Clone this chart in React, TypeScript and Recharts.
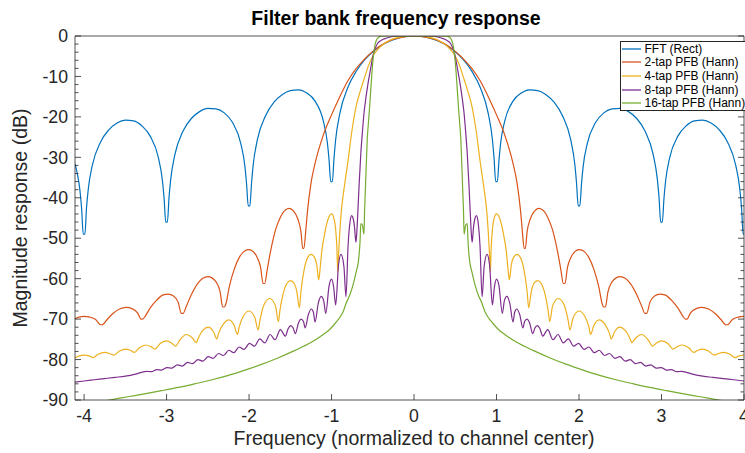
import { LineChart, Line, XAxis, YAxis } from 'recharts'

const seriesNames = ['FFT (Rect)', '2-tap PFB (Hann)', '4-tap PFB (Hann)', '8-tap PFB (Hann)', '16-tap PFB (Hann)']
const seriesColors = ['#0072BD', '#D95319', '#EDB120', '#7E2F8E', '#77AC30']
const freqTicks = [-4, -3, -2, -1, 0, 1, 2, 3, 4]
const dbTicks = [0, -2, -4, -6, -8, -10, -12, -14, -16, -18, -20, -22, -24, -26, -28, -30, -32, -34, -36, -38, -40, -42, -44, -46, -48, -50, -52, -54, -56, -58, -60, -62, -64, -66, -68, -70, -72, -74, -76, -78, -80, -82, -84, -86, -88, -90]

// [frequency, dB]
const fftPoints: [number, number][] = [
  [-4.11, -31.6], [-4.08, -34.2], [-4.05, -38.2], [-4.03, -42.6], [-4.01, -49], [-3.99, -49], [-3.97, -42.4], [-3.95, -38.0],
  [-3.9, -32.0], [-3.8, -26.2], [-3.7, -23.2], [-3.6, -21.5], [-3.5, -20.8], [-3.4, -21.0], [-3.3, -22.2], [-3.2, -24.7],
  [-3.1, -30.0], [-3.05, -35.8], [-3.03, -40.1], [-3.01, -46], [-2.99, -46], [-2.97, -39.9], [-2.95, -35.5], [-2.9, -29.4],
  [-2.8, -23.5], [-2.7, -20.4], [-2.6, -18.7], [-2.5, -17.9], [-2.4, -18.0], [-2.3, -19.0], [-2.2, -21.4], [-2.1, -26.6],
  [-2.05, -32.3], [-2.03, -36.6], [-2.01, -42], [-1.99, -42], [-1.97, -36.4], [-1.95, -31.9], [-1.9, -25.7], [-1.8, -19.7],
  [-1.7, -16.4], [-1.6, -14.5], [-1.5, -13.5], [-1.4, -13.3], [-1.3, -14.1], [-1.2, -16.1], [-1.1, -21.0], [-1.05, -26.5],
  [-1.03, -30.7], [-1.01, -36], [-0.99, -36], [-0.97, -30.2], [-0.95, -25.6], [-0.9, -19.2], [-0.8, -12.6], [-0.7, -8.7],
  [-0.6, -5.9], [-0.5, -3.9], [-0.4, -2.4], [-0.3, -1.3], [-0.2, -0.6], [-0.1, -0.1], [0, 0],
  [0.1, -0.1], [0.2, -0.6], [0.3, -1.3], [0.4, -2.4], [0.5, -3.9], [0.6, -5.9], [0.7, -8.7], [0.8, -12.6], [0.9, -19.2],
  [0.95, -25.6], [0.97, -30.2], [0.99, -36], [1.01, -36], [1.03, -30.7], [1.05, -26.5], [1.1, -21.0], [1.2, -16.1],
  [1.3, -14.1], [1.4, -13.3], [1.5, -13.5], [1.6, -14.5], [1.7, -16.4], [1.8, -19.7], [1.9, -25.7], [1.95, -31.9],
  [1.97, -36.4], [1.99, -42], [2.01, -42], [2.03, -36.6], [2.05, -32.3], [2.1, -26.6], [2.2, -21.4], [2.3, -19.0],
  [2.4, -18.0], [2.5, -17.9], [2.6, -18.7], [2.7, -20.4], [2.8, -23.5], [2.9, -29.4], [2.95, -35.5], [2.97, -39.9],
  [2.99, -46], [3.01, -46], [3.03, -40.1], [3.05, -35.8], [3.1, -30.0], [3.2, -24.7], [3.3, -22.2], [3.4, -21.0],
  [3.5, -20.8], [3.6, -21.5], [3.7, -23.2], [3.8, -26.2], [3.9, -32.0], [3.95, -38.0], [3.97, -42.4], [3.99, -49], [4.0, -49],
]

const pfb2Points: [number, number][] = [
  [-4.11, -69.9], [-4.06, -69.5], [-4.0, -69.3], [-3.93, -69.5], [-3.86, -70.1], [-3.8, -71.4], [-3.78, -71.4], [-3.72, -70.1],
  [-3.65, -68.6], [-3.57, -67.5], [-3.49, -67.1], [-3.42, -67.4], [-3.35, -68.5], [-3.31, -70], [-3.29, -70], [-3.26, -69.3],
  [-3.2, -67.3], [-3.12, -65.3], [-3.04, -64.0], [-2.98, -63.8], [-2.92, -64.2], [-2.86, -65.8], [-2.82, -68.6], [-2.8, -68.6],
  [-2.76, -66.8], [-2.7, -64], [-2.63, -61.4], [-2.56, -59.9], [-2.5, -59.5], [-2.45, -59.8], [-2.4, -60.8], [-2.35, -63.3],
  [-2.32, -67], [-2.3, -67], [-2.28, -66.2], [-2.24, -62], [-2.18, -57.7], [-2.12, -54.8], [-2.05, -53.1], [-2.0, -52.8],
  [-1.95, -53.3], [-1.9, -54.8], [-1.86, -57.2], [-1.83, -61.2], [-1.81, -61.2], [-1.78, -57.8], [-1.74, -53.3], [-1.68, -48.0],
  [-1.62, -44.8], [-1.56, -43.0], [-1.51, -42.6], [-1.46, -43.3], [-1.41, -45.2], [-1.37, -48.5], [-1.35, -52.5], [-1.335, -52.5],
  [-1.31, -47.5], [-1.29, -43], [-1.25, -36.5], [-1.2, -31.5], [-1.1, -24.5], [-1.0, -19.5], [-0.9, -15.0], [-0.8, -11.0],
  [-0.7, -8.0], [-0.6, -5.7], [-0.5, -3.8], [-0.4, -2.3], [-0.3, -1.2], [-0.2, -0.55], [-0.1, -0.15], [0, 0],
  [0.1, -0.15], [0.2, -0.55], [0.3, -1.2], [0.4, -2.3], [0.5, -3.8], [0.6, -5.7], [0.7, -8.0], [0.8, -11.0], [0.9, -15.0],
  [1.0, -19.5], [1.1, -24.5], [1.2, -31.5], [1.25, -36.5], [1.29, -43], [1.31, -47.5], [1.335, -52.5], [1.35, -52.5],
  [1.37, -48.5], [1.41, -45.2], [1.46, -43.3], [1.51, -42.6], [1.56, -43.0], [1.62, -44.8], [1.68, -48.0], [1.74, -53.3],
  [1.78, -57.8], [1.81, -61.2], [1.83, -61.2], [1.86, -57.2], [1.9, -54.8], [1.95, -53.3], [2.0, -52.8], [2.05, -53.1],
  [2.12, -54.8], [2.18, -57.7], [2.24, -62], [2.28, -66.2], [2.3, -67], [2.32, -67], [2.35, -63.3], [2.4, -60.8],
  [2.45, -59.8], [2.5, -59.5], [2.56, -59.9], [2.63, -61.4], [2.7, -64], [2.76, -66.8], [2.8, -68.6], [2.82, -68.6],
  [2.86, -65.8], [2.92, -64.2], [2.98, -63.8], [3.04, -64.0], [3.12, -65.3], [3.2, -67.3], [3.26, -69.3], [3.29, -70],
  [3.31, -70], [3.35, -68.5], [3.42, -67.4], [3.49, -67.1], [3.57, -67.5], [3.65, -68.6], [3.72, -70.1], [3.78, -71.4],
  [3.8, -71.4], [3.86, -70.1], [3.93, -69.5], [4.0, -69.3],
]

const pfb4Points: [number, number][] = [
  [-4.11, -79.6], [-4.06, -79.1], [-4.0, -78.9], [-3.94, -79.1], [-3.89, -79.5], [-3.83, -78.7], [-3.75, -78.2], [-3.69, -78.5],
  [-3.64, -78.9], [-3.57, -77.9], [-3.5, -77.4], [-3.44, -77.7], [-3.39, -78.2], [-3.33, -77.1], [-3.25, -76.4], [-3.19, -76.8],
  [-3.14, -77.4], [-3.08, -76.1], [-3.0, -75.4], [-2.94, -75.9], [-2.89, -76.7], [-2.84, -75.2], [-2.76, -73.8], [-2.69, -74.6],
  [-2.64, -75.8], [-2.62, -74.9], [-2.56, -72.8], [-2.49, -72.0], [-2.43, -73.2], [-2.39, -74.9], [-2.37, -73.6], [-2.31, -71.2],
  [-2.245, -70.2], [-2.18, -71.6], [-2.14, -73.8], [-2.12, -72.0], [-2.07, -69.3], [-2.0, -68.0], [-1.93, -69.6], [-1.89, -72.7],
  [-1.87, -70.5], [-1.82, -66.5], [-1.75, -64.9], [-1.68, -66.7], [-1.645, -70.6], [-1.625, -67.8], [-1.59, -64], [-1.545, -61.3],
  [-1.5, -60.5], [-1.46, -61.0], [-1.42, -63.3], [-1.39, -67.2], [-1.37, -63], [-1.33, -57.5], [-1.29, -54.8], [-1.25, -54.0],
  [-1.21, -54.6], [-1.18, -56.5], [-1.155, -60.3], [-1.145, -58.8], [-1.12, -53.5], [-1.08, -48.5], [-1.04, -45.2], [-1.0, -44.0],
  [-0.97, -45.2], [-0.95, -47.8], [-0.935, -52.5], [-0.925, -58.3], [-0.915, -54], [-0.9, -48.5], [-0.88, -43.0], [-0.85, -38.0],
  [-0.8, -30.8], [-0.75, -23.0], [-0.7, -17.2], [-0.65, -13.5], [-0.6, -10.3], [-0.55, -7.2], [-0.5, -5.0], [-0.45, -3.6],
  [-0.4, -2.5], [-0.3, -1.1], [-0.2, -0.4], [-0.1, -0.1], [0, 0],
  [0.1, -0.1], [0.2, -0.4], [0.3, -1.1], [0.4, -2.5], [0.45, -3.6], [0.5, -5.0], [0.55, -7.2], [0.6, -10.3], [0.65, -13.5],
  [0.7, -17.2], [0.75, -23.0], [0.8, -30.8], [0.85, -38.0], [0.88, -43.0], [0.9, -48.5], [0.915, -54], [0.925, -58.3],
  [0.935, -52.5], [0.95, -47.8], [0.97, -45.2], [1.0, -44.0], [1.04, -45.2], [1.08, -48.5], [1.12, -53.5], [1.145, -58.8],
  [1.155, -60.3], [1.18, -56.5], [1.21, -54.6], [1.25, -54.0], [1.29, -54.8], [1.33, -57.5], [1.37, -63], [1.39, -67.2],
  [1.42, -63.3], [1.46, -61.0], [1.5, -60.5], [1.545, -61.3], [1.59, -64], [1.625, -67.8], [1.645, -70.6], [1.68, -66.7],
  [1.75, -64.9], [1.82, -66.5], [1.87, -70.5], [1.89, -72.7], [1.93, -69.6], [2.0, -68.0], [2.07, -69.3], [2.12, -72.0],
  [2.14, -73.8], [2.18, -71.6], [2.245, -70.2], [2.31, -71.2], [2.37, -73.6], [2.39, -74.9], [2.43, -73.2], [2.49, -72.0],
  [2.56, -72.8], [2.62, -74.9], [2.64, -75.8], [2.69, -74.6], [2.76, -73.8], [2.84, -75.2], [2.89, -76.7], [2.94, -75.9],
  [3.0, -75.4], [3.08, -76.1], [3.14, -77.4], [3.19, -76.8], [3.25, -76.4], [3.33, -77.1], [3.39, -78.2], [3.44, -77.7],
  [3.5, -77.4], [3.57, -77.9], [3.64, -78.9], [3.69, -78.5], [3.75, -78.2], [3.83, -78.7], [3.89, -79.5], [3.94, -79.1],
  [4.0, -78.9],
]

const pfb8Points: [number, number][] = [
  [-4.11, -85.6], [-4.0, -85.3], [-3.875, -85.0], [-3.75, -84.7], [-3.625, -84.4], [-3.5, -84.1], [-3.375, -83.6], [-3.245, -82.9],
  [-3.185, -83.0], [-3.12, -82.5], [-3.06, -82.6], [-2.995, -82.0], [-2.935, -82.1], [-2.87, -81.3], [-2.81, -81.6], [-2.745, -80.7],
  [-2.685, -81.0], [-2.62, -80.0], [-2.56, -80.4], [-2.495, -79.3], [-2.435, -79.7], [-2.37, -78.5], [-2.31, -79.0], [-2.245, -77.7],
  [-2.185, -78.3], [-2.12, -76.9], [-2.06, -77.5], [-1.995, -76.0], [-1.935, -76.7], [-1.87, -74.9], [-1.81, -75.9], [-1.745, -73.8],
  [-1.685, -75.1], [-1.62, -72.6], [-1.56, -74.2], [-1.525, -72.3], [-1.495, -71.6], [-1.465, -72.2], [-1.44, -73.6], [-1.4, -70.9],
  [-1.37, -70.0], [-1.34, -70.6], [-1.32, -72.2], [-1.28, -68.8], [-1.245, -67.5], [-1.22, -68.3], [-1.2, -70.7], [-1.16, -66],
  [-1.125, -64.4], [-1.095, -65.5], [-1.07, -68.6], [-1.03, -61.8], [-1.0, -60.1], [-0.975, -62], [-0.95, -66.5], [-0.915, -56.5],
  [-0.885, -54], [-0.85, -57], [-0.825, -64.5], [-0.8, -52], [-0.775, -45.8], [-0.757, -44.4], [-0.74, -45], [-0.72, -47.5],
  [-0.705, -51], [-0.695, -49], [-0.68, -43], [-0.665, -36.5], [-0.645, -29], [-0.625, -23.5], [-0.605, -18.8], [-0.585, -15.5],
  [-0.56, -12], [-0.53, -8.5], [-0.49, -4.2], [-0.445, -1.9], [-0.4, -1.1], [-0.36, -0.7], [-0.3, -0.3], [-0.2, -0.05], [-0.1, 0], [0, 0],
  [0.1, 0], [0.2, -0.05], [0.3, -0.3], [0.36, -0.7], [0.4, -1.1], [0.445, -1.9], [0.49, -4.2], [0.53, -8.5], [0.56, -12],
  [0.585, -15.5], [0.605, -18.8], [0.625, -23.5], [0.645, -29], [0.665, -36.5], [0.68, -43], [0.695, -49], [0.705, -51],
  [0.72, -47.5], [0.74, -45], [0.757, -44.4], [0.775, -45.8], [0.8, -52], [0.825, -64.5], [0.85, -57], [0.885, -54],
  [0.915, -56.5], [0.95, -66.5], [0.975, -62], [1.0, -60.1], [1.03, -61.8], [1.07, -68.6], [1.095, -65.5], [1.125, -64.4],
  [1.16, -66], [1.2, -70.7], [1.22, -68.3], [1.245, -67.5], [1.28, -68.8], [1.32, -72.2], [1.34, -70.6], [1.37, -70.0],
  [1.4, -70.9], [1.44, -73.6], [1.465, -72.2], [1.495, -71.6], [1.525, -72.3], [1.56, -74.2], [1.62, -72.6], [1.685, -75.1],
  [1.745, -73.8], [1.81, -75.9], [1.87, -74.9], [1.935, -76.7], [1.995, -76.0], [2.06, -77.5], [2.12, -76.9], [2.185, -78.3],
  [2.245, -77.7], [2.31, -79.0], [2.37, -78.5], [2.435, -79.7], [2.495, -79.3], [2.56, -80.4], [2.62, -80.0], [2.685, -81.0],
  [2.745, -80.7], [2.81, -81.6], [2.87, -81.3], [2.935, -82.1], [2.995, -82.0], [3.06, -82.6], [3.12, -82.5], [3.185, -83.0],
  [3.245, -82.9], [3.375, -83.6], [3.5, -84.1], [3.625, -84.4], [3.75, -84.7], [3.875, -85.0], [4.0, -85.3],
]

const pfb16Points: [number, number][] = [
  [-4.11, -91.3], [-3.9, -90.7], [-3.69, -90], [-3.47, -89.2], [-3.27, -88.5], [-3.06, -87.7], [-2.86, -86.9], [-2.66, -86.0],
  [-2.45, -85.0], [-2.25, -83.9], [-2.05, -82.6], [-1.85, -81.2], [-1.65, -79.6], [-1.45, -77.8], [-1.25, -75.8], [-1.1, -73.8],
  [-1.02, -72.5], [-0.95, -70.9], [-0.9, -69.6], [-0.86, -68.2], [-0.82, -65.9], [-0.78, -64.1], [-0.74, -61.6], [-0.7, -58.2],
  [-0.675, -55.8], [-0.655, -51], [-0.645, -46.4], [-0.625, -46.8], [-0.607, -49], [-0.6, -43.5], [-0.59, -38], [-0.58, -32.4],
  [-0.567, -25.5], [-0.555, -22], [-0.54, -18], [-0.525, -13.5], [-0.51, -9], [-0.49, -4.5], [-0.47, -1.9], [-0.45, -0.8],
  [-0.43, -0.3], [-0.4, -0.05], [-0.3, 0], [-0.2, 0], [0, 0],
  [0.2, 0], [0.3, 0], [0.4, -0.05], [0.43, -0.3], [0.45, -0.8], [0.47, -1.9], [0.49, -4.5], [0.51, -9], [0.525, -13.5],
  [0.54, -18], [0.555, -22], [0.567, -25.5], [0.58, -32.4], [0.59, -38], [0.6, -43.5], [0.607, -49], [0.625, -46.8],
  [0.645, -46.4], [0.655, -51], [0.675, -55.8], [0.7, -58.2], [0.74, -61.6], [0.78, -64.1], [0.82, -65.9], [0.86, -68.2],
  [0.9, -69.6], [0.95, -70.9], [1.02, -72.5], [1.1, -73.8], [1.25, -75.8], [1.45, -77.8], [1.65, -79.6], [1.85, -81.2],
  [2.05, -82.6], [2.25, -83.9], [2.45, -85.0], [2.66, -86.0], [2.86, -86.9], [3.06, -87.7], [3.27, -88.5], [3.47, -89.2],
  [3.69, -90], [3.9, -90.7], [4.0, -91.0],
]

const seriesPoints = [fftPoints, pfb2Points, pfb4Points, pfb8Points, pfb16Points]

const FONT = '"Liberation Sans", Arial, Helvetica, sans-serif'
const INK = '#262626'
const X_DOMAIN: [number, number] = [-4.11, 4]
const Y_DOMAIN: [number, number] = [-90, 0]

// eslint-disable-next-line @typescript-eslint/no-explicit-any
function BottomTick({ x, y, payload }: any) {
  const axisY = y - 9
  return (
    <g>
      <line x1={x} x2={x} y1={axisY} y2={axisY - 6} stroke={INK} strokeWidth={0.8} />
      <text x={x} y={y} dy="0.71em" textAnchor="middle" fontSize={17.7} fill={INK} fontFamily={FONT}>
        {payload.value}
      </text>
    </g>
  )
}

// eslint-disable-next-line @typescript-eslint/no-explicit-any
function LeftTick({ x, y, payload }: any) {
  const axisX = x + 7
  const major = payload.value % 10 === 0
  return (
    <g>
      <line x1={axisX} x2={axisX + (major ? 6 : 3.5)} y1={y} y2={y} stroke={INK} strokeWidth={0.8} />
      {major && (
        <text x={x} y={y} dy="0.35em" textAnchor="end" fontSize={17.7} fill={INK} fontFamily={FONT}>
          {payload.value}
        </text>
      )}
    </g>
  )
}

// eslint-disable-next-line @typescript-eslint/no-explicit-any
function TopTick({ x, y }: any) {
  return <line x1={x} x2={x} y1={y} y2={y + 6} stroke={INK} strokeWidth={0.8} />
}

// eslint-disable-next-line @typescript-eslint/no-explicit-any
function RightTick({ x, y, payload }: any) {
  const major = payload.value % 10 === 0
  return <line x1={x} x2={x - (major ? 6 : 3.5)} y1={y} y2={y} stroke={INK} strokeWidth={0.8} />
}

export default function App() {
  const axisLine = { stroke: INK, strokeWidth: 0.8 }
  return (
    <div style={{ position: 'absolute', left: 0, top: 0, width: 745, height: 453, overflow: 'hidden', background: '#fff', fontFamily: FONT }}>
      <LineChart width={745} height={453} margin={{ top: 36, right: 1, bottom: 0, left: 0 }}>
        <XAxis
          xAxisId="b"
          dataKey="f"
          type="number"
          domain={X_DOMAIN}
          allowDataOverflow
          ticks={freqTicks}
          interval={0}
          height={53}
          tickLine={false}
          tickSize={6}
          tickMargin={3}
          axisLine={axisLine}
          tick={<BottomTick />}
        />
        <XAxis
          xAxisId="t"
          orientation="top"
          type="number"
          domain={X_DOMAIN}
          allowDataOverflow
          ticks={freqTicks}
          interval={0}
          mirror
          height={1}
          tickLine={false}
          tickSize={0}
          tickMargin={0}
          axisLine={axisLine}
          tick={<TopTick />}
        />
        <YAxis
          yAxisId="l"
          type="number"
          domain={Y_DOMAIN}
          allowDataOverflow
          ticks={dbTicks}
          interval={0}
          width={75}
          tickLine={false}
          tickSize={5}
          tickMargin={2}
          axisLine={axisLine}
          tick={<LeftTick />}
        />
        <YAxis
          yAxisId="r"
          orientation="right"
          type="number"
          domain={Y_DOMAIN}
          allowDataOverflow
          ticks={dbTicks}
          interval={0}
          mirror
          width={1}
          tickLine={false}
          tickSize={0}
          tickMargin={0}
          axisLine={axisLine}
          tick={<RightTick />}
        />
        {seriesPoints.map((pts, i) => (
          <Line
            key={seriesNames[i]}
            xAxisId="b"
            yAxisId="l"
            data={pts.map(([f, db]) => ({ f, db }))}
            dataKey="db"
            name={seriesNames[i]}
            type="monotone"
            stroke={seriesColors[i]}
            strokeWidth={1.2}
            dot={false}
            activeDot={false}
            isAnimationActive={false}
          />
        ))}
      </LineChart>

      <svg width={745} height={453} style={{ position: 'absolute', left: 0, top: 0, pointerEvents: 'none' }}>
        <text x={396} y={25} textAnchor="middle" fontSize={19.5} fontWeight="bold" fill="#000" fontFamily={FONT}>
          Filter bank frequency response
        </text>
        <text x={414} y={445} textAnchor="middle" fontSize={19.5} fill={INK} fontFamily={FONT}>
          Frequency (normalized to channel center)
        </text>
        <text x={-218} y={27} transform="rotate(-90)" textAnchor="middle" fontSize={19.5} fill={INK} fontFamily={FONT}>
          Magnitude response (dB)
        </text>
      </svg>

      <div
        style={{
          position: 'absolute',
          left: 620,
          top: 41,
          width: 140,
          height: 70,
          boxSizing: 'border-box',
          border: `1px solid ${INK}`,
          background: '#fff',
          fontSize: 12,
          color: '#000',
        }}
      >
        {seriesNames.map((name, i) => (
          <div key={name} style={{ display: 'flex', alignItems: 'center', height: 13.6, whiteSpace: 'nowrap' }}>
            <svg width={19} height={4} style={{ marginLeft: 1, marginRight: 3.5, flex: 'none' }}>
              <line x1={0} x2={19} y1={2} y2={2} stroke={seriesColors[i]} strokeWidth={1.3} />
            </svg>
            {name}
          </div>
        ))}
      </div>
    </div>
  )
}
